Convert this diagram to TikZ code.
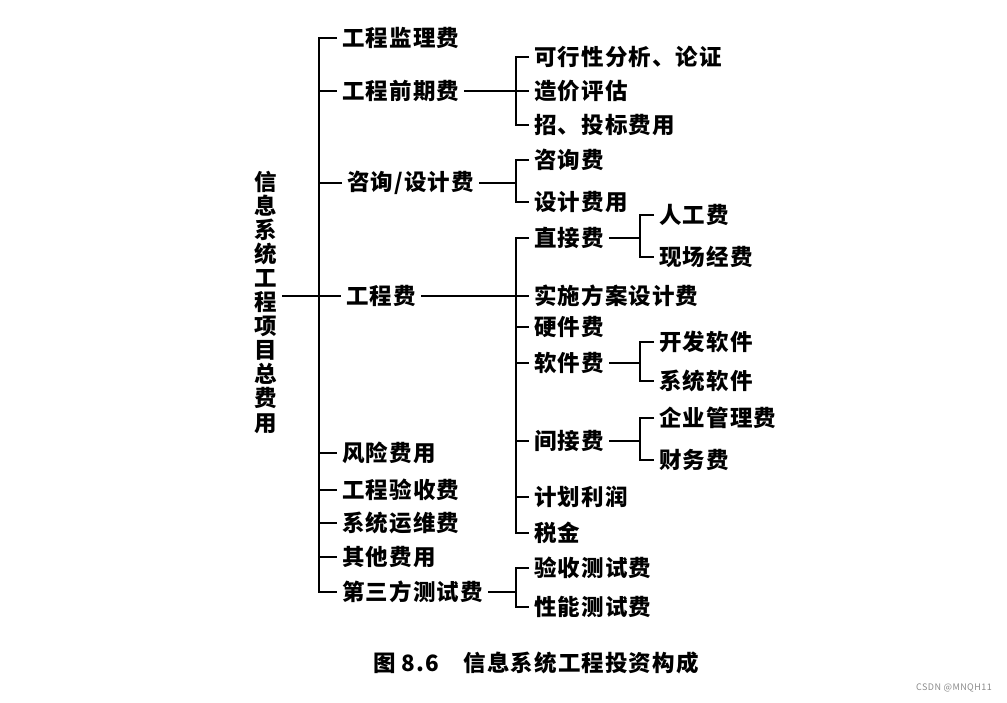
\documentclass[tikz,border=0pt]{standalone}
\usepackage{fontspec}
\setmainfont{Noto Sans CJK SC}[LetterSpace=5]
\usepackage{tikz}
\usetikzlibrary{positioning,calc}
\definecolor{fg}{HTML}{000000}
\definecolor{stroke}{HTML}{000000}
\definecolor{mark}{HTML}{8A8A8A}

\begin{document}
\begin{tikzpicture}[
  x=1pt, y=-1pt,
  item/.style={anchor=west, inner sep=5pt, text=fg, font=\fontsize{22.5}{24}\selectfont\bfseries},
  rootlbl/.style={inner sep=5pt, text=fg, align=center, font=\fontsize{22.5}{24.1}\selectfont\bfseries},
  conn/.style={draw=stroke, line width=2.6pt},
]
\useasboundingbox (0,0) rectangle (1007,703);

% root (vertical text)
\node[rootlbl] (root) at (266,302) {信\\息\\系\\统\\工\\程\\项\\目\\总\\费\\用};

% first level
\node[item] (jlf) at (337,38) {工程监理费};
\node[item] (qqf) at (337,91) {工程前期费};
\node[item] (zxsj) at (342,183) {咨询/设计费};
\node[item] (gcf) at (341,296) {工程费};
\node[item] (fxf) at (337,453) {风险费用};
\node[item] (ysf) at (337,490) {工程验收费};
\node[item] (ywf) at (337,523) {系统运维费};
\node[item] (qtf) at (337,557) {其他费用};
\node[item] (dsf) at (337,592) {第三方测试费};

% second level
\node[item] (kxx) at (529,57) {可行性分析、论证};
\node[item] (zjpg) at (529,91) {造价评估};
\node[item] (ztb) at (529,125) {招、投标费用};
\node[item] (zxf) at (529,160) {咨询费};
\node[item] (sjf) at (529,202) {设计费用};
\node[item] (zjf) at (529,238) {直接费};
\node[item] (ssfa) at (529,296) {实施方案设计费};
\node[item] (yjf) at (529,327) {硬件费};
\node[item] (rjf) at (529,363) {软件费};
\node[item] (jjf) at (529,441) {间接费};
\node[item] (jhlr) at (529,497) {计划利润};
\node[item] (sj) at (529,533) {税金};
\node[item] (ysc) at (529,568) {验收测试费};
\node[item] (xnc) at (529,607) {性能测试费};

% third level
\node[item] (rgf) at (654,215) {人工费};
\node[item] (xcjf) at (654,257) {现场经费};
\node[item] (kfrj) at (654,342) {开发软件};
\node[item] (xtrj) at (654,381) {系统软件};
\node[item] (qygl) at (654,418) {企业管理费};
\node[item] (cwf) at (654,460) {财务费};

% bracket spines
\coordinate (spine) at (319,300);
\coordinate (brqq) at (516,91);
\coordinate (brzx) at (516,183);
\coordinate (brgc) at (516,296);
\coordinate (brds) at (516,592);
\coordinate (brzj) at (640,238);
\coordinate (brrj) at (640,363);
\coordinate (brjj) at (640,441);

% main spine
\draw[conn] (jlf.west) -| (spine) |- (dsf.west);
\draw[conn] (spine |- qqf.west) -- (qqf.west);
\draw[conn] (spine |- zxsj.west) -- (zxsj.west);
\draw[conn] (spine |- fxf.west) -- (fxf.west);
\draw[conn] (spine |- ysf.west) -- (ysf.west);
\draw[conn] (spine |- ywf.west) -- (ywf.west);
\draw[conn] (spine |- qtf.west) -- (qtf.west);
\draw[conn] (root.east |- gcf.west) -- (gcf.west);

% 工程前期费
\draw[conn] (qqf.east) -- (zjpg.west);
\draw[conn] (kxx.west) -| (brqq) |- (ztb.west);
% 咨询/设计费
\draw[conn] (zxsj.east) -- (brzx);
\draw[conn] (zxf.west) -| (brzx) |- (sjf.west);
% 工程费
\draw[conn] (gcf.east) -- (ssfa.west);
\draw[conn] (zjf.west) -| (brgc) |- (sj.west);
\draw[conn] (brgc |- yjf.west) -- (yjf.west);
\draw[conn] (brgc |- rjf.west) -- (rjf.west);
\draw[conn] (brgc |- jjf.west) -- (jjf.west);
\draw[conn] (brgc |- jhlr.west) -- (jhlr.west);
% 第三方测试费
\draw[conn] (dsf.east) -- (brds);
\draw[conn] (ysc.west) -| (brds) |- (xnc.west);

% third level brackets
\draw[conn] (zjf.east) -- (brzj);
\draw[conn] (rgf.west) -| (brzj) |- (xcjf.west);
\draw[conn] (rjf.east) -- (brrj);
\draw[conn] (kfrj.west) -| (brrj) |- (xtrj.west);
\draw[conn] (jjf.east) -- (brjj);
\draw[conn] (qygl.west) -| (brjj) |- (cwf.west);

% caption
\node[item] (cap) at (368,663) {图 8.6\hspace{24pt}信息系统工程投资构成};
\node[anchor=east, inner sep=0pt, text=mark, font=\fontsize{9}{10}\selectfont] (wm) at (992,688) {CSDN @MNQH11};
\end{tikzpicture}
\end{document}
